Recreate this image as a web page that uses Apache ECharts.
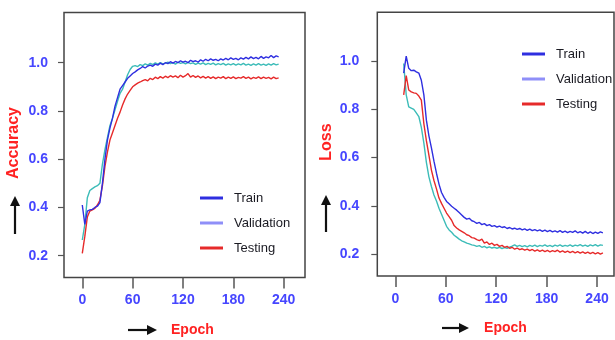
<!DOCTYPE html>
<html>
<head>
<meta charset="utf-8">
<script src="https://cdn.jsdelivr.net/npm/echarts@6/dist/echarts.min.js"></script>
<style>html,body{margin:0;padding:0;background:#fff}#c{width:615px;height:340px}</style>
</head>
<body>
<div id="c"></div>
<script>
// ---------- data ----------
const tickEpochs = [0, 60, 120, 180, 240];
const tickValues = [0.2, 0.4, 0.6, 0.8, 1.0];
const seriesNames = ['Train', 'Validation', 'Testing'];

// accuracy chart: epochs 0,3,...,234
const accStart = 0, accStep = 3;
const accTrain = [0.41,0.33,0.385,0.39,0.392,0.40,0.405,0.42,0.50,0.60,
  0.68,0.73,0.77,0.82,0.855,0.89,0.905,0.92,0.935,0.945,
  0.955,0.962,0.97,0.976,0.984,0.978,0.986,0.99,0.985,0.994,
  0.99,0.998,0.992,1.0,0.996,1.004,0.998,1.005,1.0,1.008,
  1.002,1.006,1.0,1.01,1.004,1.008,1.002,1.012,1.006,1.014,
  1.008,1.016,1.01,1.014,1.008,1.016,1.011,1.018,1.012,1.02,
  1.014,1.018,1.012,1.02,1.015,1.022,1.016,1.024,1.017,1.022,
  1.016,1.026,1.018,1.024,1.02,1.03,1.021,1.028,1.024];
const accVal = [0.265,0.33,0.44,0.47,0.478,0.485,0.49,0.50,0.58,0.64,
  0.69,0.74,0.77,0.805,0.84,0.873,0.89,0.92,0.95,0.972,
  0.985,0.988,0.984,0.992,0.988,0.995,0.99,0.997,0.992,0.999,
  0.994,1.0,0.995,0.998,1.002,0.996,1.0,0.994,1.002,0.997,
  1.0,0.995,1.001,0.996,0.999,0.993,0.998,0.994,0.999,0.992,
  0.997,0.993,0.998,0.991,0.996,0.992,0.997,0.99,0.995,0.991,
  0.996,0.99,0.995,0.991,0.997,0.99,0.994,0.989,0.995,0.99,
  0.996,0.99,0.994,0.989,0.995,0.99,0.996,0.991,0.994];
const accTest = [0.21,0.28,0.36,0.385,0.39,0.396,0.41,0.43,0.49,0.57,
  0.63,0.68,0.71,0.74,0.77,0.795,0.825,0.85,0.87,0.885,
  0.90,0.908,0.915,0.92,0.926,0.93,0.925,0.935,0.93,0.94,
  0.934,0.942,0.936,0.944,0.938,0.946,0.94,0.945,0.938,0.948,
  0.94,0.946,0.955,0.94,0.947,0.939,0.945,0.937,0.943,0.936,
  0.942,0.935,0.941,0.934,0.94,0.936,0.942,0.934,0.94,0.935,
  0.941,0.934,0.939,0.936,0.942,0.935,0.94,0.933,0.939,0.935,
  0.941,0.934,0.94,0.935,0.939,0.933,0.94,0.934,0.937];

// loss chart: epochs 10,13,...,247
const lossStart = 10, lossStep = 3;
const lossTrain = [0.95,1.02,0.97,0.96,0.962,0.955,0.95,0.92,0.86,0.755,
  0.69,0.64,0.585,0.535,0.49,0.455,0.435,0.418,0.408,0.398,
  0.39,0.382,0.372,0.362,0.352,0.345,0.348,0.338,0.334,0.327,
  0.331,0.322,0.326,0.318,0.322,0.315,0.318,0.312,0.316,0.31,
  0.313,0.306,0.31,0.304,0.307,0.302,0.306,0.3,0.304,0.298,
  0.303,0.297,0.301,0.296,0.3,0.294,0.299,0.293,0.298,0.292,
  0.296,0.291,0.297,0.29,0.295,0.289,0.294,0.29,0.296,0.288,
  0.293,0.287,0.294,0.286,0.292,0.285,0.291,0.286,0.292,0.288];
const lossVal = [0.99,0.86,0.81,0.805,0.8,0.785,0.77,0.725,0.66,0.58,
  0.52,0.48,0.445,0.42,0.39,0.365,0.34,0.315,0.3,0.29,
  0.278,0.27,0.262,0.255,0.25,0.245,0.242,0.238,0.236,0.232,
  0.235,0.228,0.232,0.226,0.23,0.225,0.228,0.224,0.228,0.223,
  0.227,0.224,0.229,0.233,0.238,0.232,0.236,0.231,0.235,0.23,
  0.236,0.232,0.237,0.231,0.236,0.233,0.238,0.232,0.236,0.231,
  0.237,0.233,0.238,0.232,0.236,0.233,0.238,0.232,0.237,0.234,
  0.239,0.233,0.237,0.232,0.238,0.234,0.239,0.233,0.238,0.236];
const lossTest = [0.86,0.94,0.88,0.872,0.868,0.866,0.855,0.838,0.74,0.67,
  0.61,0.548,0.505,0.47,0.432,0.41,0.39,0.37,0.355,0.34,
  0.318,0.308,0.3,0.294,0.288,0.28,0.276,0.268,0.266,0.26,
  0.256,0.262,0.245,0.25,0.24,0.245,0.236,0.24,0.232,0.236,
  0.228,0.232,0.224,0.228,0.22,0.225,0.218,0.222,0.216,0.22,
  0.214,0.219,0.212,0.217,0.211,0.216,0.21,0.215,0.209,0.214,
  0.21,0.216,0.208,0.213,0.207,0.212,0.206,0.211,0.205,0.21,
  0.204,0.209,0.203,0.208,0.202,0.207,0.201,0.206,0.2,0.205];

// ---------- styling ----------
const C_TRAIN = '#2f2fe0', C_VAL = '#3cbcb8', C_VAL_LEG = '#8f8ff8', C_TEST = '#e62a2a';
const FONT = '"Liberation Sans", Arial, sans-serif';
const TICK_BLUE = '#4646ff', TITLE_RED = '#ff2222';

function pairs(start, step, vals) { return vals.map((v, i) => [start + i * step, v]); }

function xAxisCfg(gi, min, max) {
  return {
    gridIndex: gi, type: 'value', min: min, max: max,
    axisLine: { show: false, onZero: false },
    splitLine: { show: false },
    axisTick: { show: true, length: 11, customValues: tickEpochs, lineStyle: { color: '#555', width: 1.5 } },
    axisLabel: { customValues: tickEpochs, color: TICK_BLUE, fontWeight: 'bold', fontSize: 14, fontFamily: FONT, margin: 16 }
  };
}
function yAxisCfg(gi, min, max, margin) {
  return {
    gridIndex: gi, type: 'value', min: min, max: max,
    axisLine: { show: false, onZero: false },
    splitLine: { show: false },
    axisTick: { show: true, length: 6, customValues: tickValues, lineStyle: { color: '#555', width: 1.2 } },
    axisLabel: { customValues: tickValues, formatter: v => v.toFixed(1), color: TICK_BLUE, fontWeight: 'bold', fontSize: 14, fontFamily: FONT, margin: margin }
  };
}
function line(name, gi, data, color) {
  return { name: name, type: 'line', xAxisIndex: gi, yAxisIndex: gi, data: data, showSymbol: false,
    symbol: 'none', lineStyle: { color: color, width: 1.4 }, itemStyle: { color: color }, animation: false, z: 3 };
}
function legendCfg(left, top) {
  return {
    left: left, top: top, orient: 'vertical', icon: 'rect', itemWidth: 23, itemHeight: 3, itemGap: 11,
    textStyle: { fontSize: 13, lineHeight: 14, color: '#1a1a22', fontFamily: FONT, padding: [0, 0, 0, 6] },
    data: [
      { name: seriesNames[0], itemStyle: { color: C_TRAIN } },
      { name: seriesNames[1], itemStyle: { color: C_VAL_LEG } },
      { name: seriesNames[2], itemStyle: { color: C_TEST } }
    ]
  };
}
function arrow(x1, y1, x2, y2) {
  const dx = x2 - x1, dy = y2 - y1, L = Math.hypot(dx, dy), ux = dx / L, uy = dy / L;
  const hl = 10, hw = 5;
  const bx = x2 - ux * hl, by = y2 - uy * hl;
  return [
    { type: 'line', shape: { x1: x1, y1: y1, x2: bx, y2: by }, style: { stroke: '#111', lineWidth: 2.2 } },
    { type: 'polygon', shape: { points: [[x2, y2], [bx - uy * hw, by + ux * hw], [bx + uy * hw, by - ux * hw]] }, style: { fill: '#111' } }
  ];
}
function titleText(x, y, text, rot, size) {
  return { type: 'text', x: x, y: y, rotation: rot, style: { text: text, fill: TITLE_RED, font: 'bold ' + size + 'px ' + FONT, align: 'center', verticalAlign: 'middle' } };
}

const chart = echarts.init(document.getElementById('c'), null, { renderer: 'canvas' });
chart.setOption({
  animation: false,
  backgroundColor: '#fff',
  grid: [
    { left: 64, top: 12.5, width: 241, height: 265, show: true, borderColor: '#444', borderWidth: 1.5, backgroundColor: 'transparent' },
    { left: 377.3, top: 12.3, width: 236.7, height: 263.7, show: true, borderColor: '#444', borderWidth: 1.5, backgroundColor: 'transparent' }
  ],
  xAxis: [xAxisCfg(0, -21.8, 265.4), xAxisCfg(1, -21.4, 260.2)],
  yAxis: [yAxisCfg(0, 0.1096, 1.208, 16), yAxisCfg(1, 0.109, 1.202, 18)],
  legend: [legendCfg(195, 186), legendCfg(517, 42)],
  series: [
    line(seriesNames[1], 0, pairs(accStart, accStep, accVal), C_VAL),
    line(seriesNames[2], 0, pairs(accStart, accStep, accTest), C_TEST),
    line(seriesNames[0], 0, pairs(accStart, accStep, accTrain), C_TRAIN),
    line(seriesNames[1], 1, pairs(lossStart, lossStep, lossVal), C_VAL),
    line(seriesNames[2], 1, pairs(lossStart, lossStep, lossTest), C_TEST),
    line(seriesNames[0], 1, pairs(lossStart, lossStep, lossTrain), C_TRAIN)
  ],
  graphic: [
    titleText(14, 143, 'Accuracy', Math.PI / 2, 16),
    titleText(326.7, 142, 'Loss', Math.PI / 2, 16),
    titleText(192.4, 330.5, 'Epoch', 0, 14),
    titleText(505.5, 328, 'Epoch', 0, 14),
    ...arrow(15, 234, 15, 196),
    ...arrow(326, 232, 326, 195),
    ...arrow(128, 330, 157, 330),
    ...arrow(442, 328, 469, 328)
  ]
});
</script>
</body>
</html>
